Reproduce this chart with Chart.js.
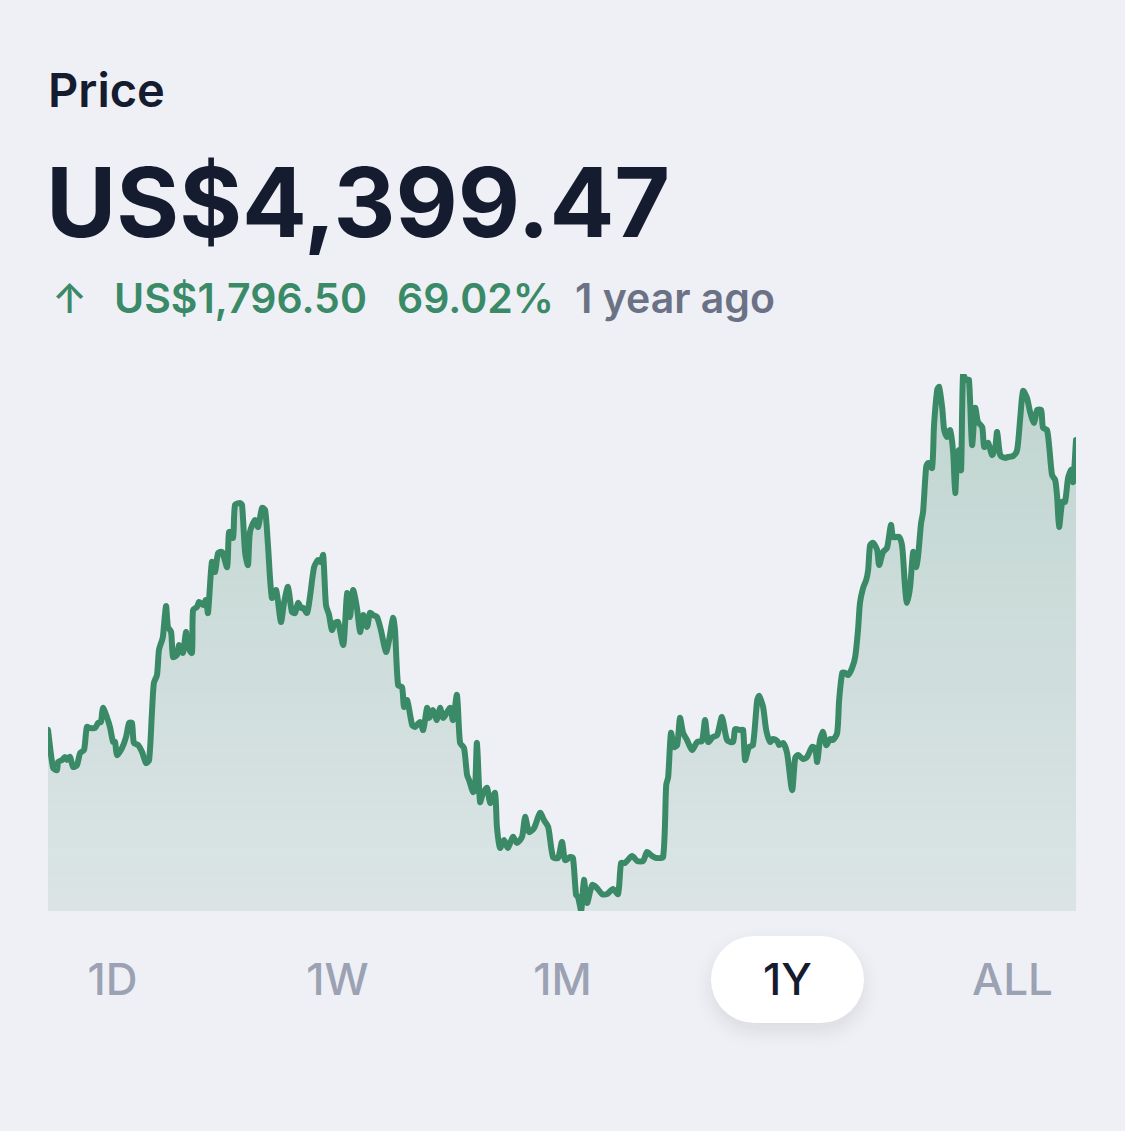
<!DOCTYPE html>
<html>
<head>
<meta charset="utf-8">
<script src="https://cdn.jsdelivr.net/npm/chart.js@4/dist/chart.umd.min.js"></script>
<style>
  html, body { margin: 0; padding: 0; }
  body { width: 1125px; height: 1131px; background: #eff0f5; position: relative; overflow: hidden; font-family: Inter, "Noto Sans", sans-serif; }
  .t { position: absolute; white-space: nowrap; line-height: normal; }
  #title { left: 48px; top: 61px; font-size: 47px; font-weight: 600; color: #151c30; }
  #price { left: 46px; top: 144px; font-size: 96px; font-weight: 700; color: #151c30; letter-spacing: 0px; }
  .sub { top: 273px; font-size: 41px; font-weight: 600; }
  #arrow { left: 52px; color: #3a8a68; font-weight: 500; }
  #chg { left: 114px; color: #3a8a68; }
  #pct { left: 397px; color: #3a8a68; }
  #ago { left: 575px; color: #6c7285; }
  #chartBox { position: absolute; left: 48px; top: 360px; width: 1028px; height: 551px; }
  #pill { position: absolute; left: 711px; top: 936px; width: 153px; height: 87px; border-radius: 44px; background: #ffffff; box-shadow: 0 8px 20px rgba(20,28,48,0.10); }
  .btn { position: absolute; top: 952px; width: 225px; text-align: center; font-size: 44px; font-weight: 500; color: #9ba2b3; line-height: normal; }
</style>
</head>
<body>
<div class="t" id="title">Price</div>
<div class="t" id="price">US$4,399.47</div>
<div class="t sub" id="arrow">↑</div>
<div class="t sub" id="chg">US$1,796.50</div>
<div class="t sub" id="pct">69.02%</div>
<div class="t sub" id="ago">1 year ago</div>
<div id="chartBox"><canvas id="c"></canvas></div>
<div id="pill"></div>
<div id="ranges"></div>
<script>
// Day offsets over the last year (0 = one year ago, 365 = today)
const days = [
  0, 1.8, 3.2, 3.6, 5.0, 6.0, 6.7, 7.8, 8.9, 10.3, 11.4, 12.8, 13.8, 14.9, 16.7, 17.8, 18.8, 19.5, 21.0, 22.0,
  23.1, 23.8, 24.5, 26.3, 27.7, 28.8, 29.8, 30.5, 32.0, 33.4, 34.8, 35.9, 36.9, 37.6, 38.7, 39.4, 40.5, 40.8, 41.9, 42.6,
  43.7, 44.4, 45.8, 46.5, 47.9, 49.0, 49.7, 51.1, 51.5, 52.9, 53.6, 55.0, 56.1, 56.8, 58.2, 59.3, 60.4, 61.8, 63.6, 64.3,
  65.7, 66.4, 68.2, 68.9, 70.0, 71.0, 71.7, 73.5, 74.6, 76.0, 77.1, 78.1, 79.5, 81.0, 82.7, 83.8, 85.2, 86.6, 87.7, 88.8,
  89.8, 90.6, 92.0, 93.0, 94.5, 95.9, 96.9, 97.7, 98.7, 99.8, 100.8, 101.9, 103.0, 104.8, 105.5, 106.2, 107.2, 108.3, 109.7, 110.8,
  111.9, 113.3, 114.3, 115.4, 116.8, 118.2, 120.0, 121.1, 122.5, 123.2, 124.3, 125.7, 126.4, 127.5, 129.3, 130.3, 132.1, 133.2, 134.6, 135.3,
  136.7, 138.1, 139.2, 140.3, 141.7, 142.8, 143.8, 145.2, 146.3, 147.7, 148.8, 149.5, 150.9, 151.6, 152.3, 153.4, 154.5, 155.9, 157.0, 158.7,
  159.4, 160.5, 161.9, 163.3, 165.1, 166.5, 168.3, 169.4, 170.8, 172.6, 174.7, 176.1, 177.6, 179.3, 181.1, 182.5, 183.6, 185.4, 186.4, 187.5,
  188.2, 189.3, 190.3, 191.4, 193.2, 194.9, 196.7, 198.5, 200.6, 202.4, 203.5, 204.9, 207.4, 209.2, 211.3, 212.7, 214.5, 215.9, 218.4, 219.5,
  220.2, 221.2, 222.3, 223.4, 224.4, 225.5, 226.9, 228.7, 230.5, 232.2, 233.3, 234.4, 236.1, 237.6, 239.3, 241.1, 243.2, 244.0, 245.7, 246.8,
  247.5, 248.9, 250.3, 251.8, 252.5, 253.9, 255.0, 256.4, 257.4, 258.9, 259.6, 261.0, 262.4, 264.2, 265.3, 266.3, 268.1, 269.5, 271.3, 272.4,
  273.1, 274.1, 275.2, 276.3, 277.7, 278.7, 280.2, 280.9, 282.0, 283.0, 284.1, 285.5, 286.6, 287.6, 288.3, 289.4, 290.5, 291.2, 291.9, 293.0,
  294.4, 295.1, 296.5, 297.9, 299.3, 300.1, 302.2, 303.3, 304.3, 305.0, 306.1, 307.2, 308.2, 308.9, 310.0, 310.7, 311.8, 312.5, 313.9, 314.6,
  315.7, 316.4, 317.5, 318.2, 319.2, 320.3, 321.4, 322.1, 322.8, 323.5, 324.2, 324.9, 326.0, 327.0, 328.1, 329.2, 330.2, 331.7, 332.4, 333.8,
  335.2, 336.3, 337.0, 338.1, 339.8, 340.9, 342.7, 344.1, 345.2, 346.2, 347.6, 348.7, 350.1, 351.2, 352.6, 353.3, 354.7, 355.5, 356.5, 357.6,
  358.3, 359.0, 360.1, 361.1, 362.2, 363.3, 364.0, 365.0
];
// Price in US$
const prices = [
  2602.97, 2367, 2354, 2404, 2416, 2435, 2416, 2435, 2373, 2385, 2460, 2478, 2621, 2615, 2615, 2646, 2652, 2739, 2677, 2621,
  2528, 2528, 2447, 2491, 2559, 2646, 2646, 2522, 2509, 2466, 2398, 2416, 2708, 2894, 2943, 3098, 3160, 3179, 3371, 3241,
  3210, 3055, 3067, 3129, 3080, 3210, 3117, 3080, 3346, 3365, 3396, 3377, 3408, 3328, 3644, 3582, 3700, 3706, 3613, 3830,
  3793, 3997, 4010, 3997, 3700, 3625, 3830, 3904, 3861, 3979, 3966, 3749, 3421, 3470, 3272, 3390, 3489, 3334, 3328, 3390,
  3359, 3359, 3328, 3427, 3613, 3656, 3644, 3687, 3377, 3315, 3222, 3266, 3272, 3129, 3266, 3452, 3303, 3470, 3359, 3210,
  3315, 3241, 3328, 3315, 3303, 3222, 3086, 3160, 3297, 3222, 2881, 2869, 2745, 2788, 2633, 2621, 2652, 2602, 2739, 2677,
  2726, 2664, 2739, 2677, 2714, 2739, 2664, 2819, 2522, 2491, 2323, 2292, 2218, 2230, 2522, 2156, 2212, 2243, 2150, 2212,
  2001, 1871, 1920, 1871, 1939, 1902, 1939, 2063, 1970, 1995, 2088, 2044, 2001, 1815, 1809, 1908, 1796, 1815, 1809, 1579,
  1567, 1480, 1672, 1530, 1641, 1623, 1585, 1585, 1616, 1585, 1778, 1778, 1821, 1790, 1790, 1846, 1821, 1809, 1815, 2261,
  2311, 2584, 2497, 2509, 2677, 2584, 2540, 2478, 2528, 2534, 2664, 2528, 2559, 2571, 2683, 2540, 2528, 2608, 2602, 2602,
  2416, 2497, 2509, 2788, 2813, 2745, 2602, 2528, 2546, 2534, 2509, 2522, 2460, 2230, 2429, 2447, 2422, 2435, 2497, 2491,
  2404, 2540, 2590, 2509, 2546, 2540, 2584, 2788, 2956, 2956, 2943, 2987, 3055, 3222, 3390, 3483, 3532, 3594, 3749, 3762,
  3718, 3625, 3706, 3731, 3873, 3799, 3799, 3737, 3489, 3390, 3489, 3706, 3613, 3675, 3886, 3954, 4233, 4258, 4227, 4493,
  4710, 4729, 4599, 4462, 4419, 4462, 4320, 4072, 4295, 4338, 4214, 4809, 4772, 4772, 4369, 4599, 4512, 4481, 4357, 4382,
  4307, 4351, 4450, 4307, 4289, 4295, 4301, 4338, 4537, 4704, 4661, 4574, 4506, 4586, 4586, 4475, 4462, 4357, 4183, 4152,
  4047, 3861, 4016, 4016, 4165, 4214, 4140, 4399.47
];
const ranges = ['1D', '1W', '1M', '1Y', 'ALL'];
const selectedRange = '1Y';
const yMin = 1480, yMax = 4809.4;

const rangesEl = document.getElementById('ranges');
ranges.forEach((r, i) => {
  const d = document.createElement('div');
  d.className = 'btn';
  d.style.left = (i * 225) + 'px';
  d.textContent = r;
  if (r === selectedRange) d.style.color = '#151c30';
  rangesEl.appendChild(d);
});

const points = days.map((d, i) => ({ x: d, y: prices[i] }));

new Chart(document.getElementById('c'), {
  type: 'line',
  data: {
    datasets: [{
      data: points,
      borderColor: '#3a8a68',
      borderWidth: 6,
      borderJoinStyle: 'round',
      borderCapStyle: 'round',
      pointRadius: 0,
      tension: 0.25,
      fill: 'start',
      backgroundColor: (ctx) => {
        const ca = ctx.chart.chartArea;
        if (!ca) return 'rgba(58,138,104,0.2)';
        const g = ctx.chart.ctx.createLinearGradient(0, ca.top, 0, ca.bottom);
        g.addColorStop(0, 'rgba(58,138,104,0.26)');
        g.addColorStop(1, 'rgba(58,138,104,0.11)');
        return g;
      }
    }]
  },
  options: {
    responsive: true,
    maintainAspectRatio: false,
    animation: false,
    layout: { padding: { top: 14, left: 0, right: 0, bottom: 0 } },
    plugins: { legend: { display: false }, tooltip: { enabled: false } },
    scales: {
      x: { type: 'linear', min: 0, max: 365, display: false },
      y: { min: yMin, max: yMax, display: false }
    }
  }
});
</script>
</body>
</html>
